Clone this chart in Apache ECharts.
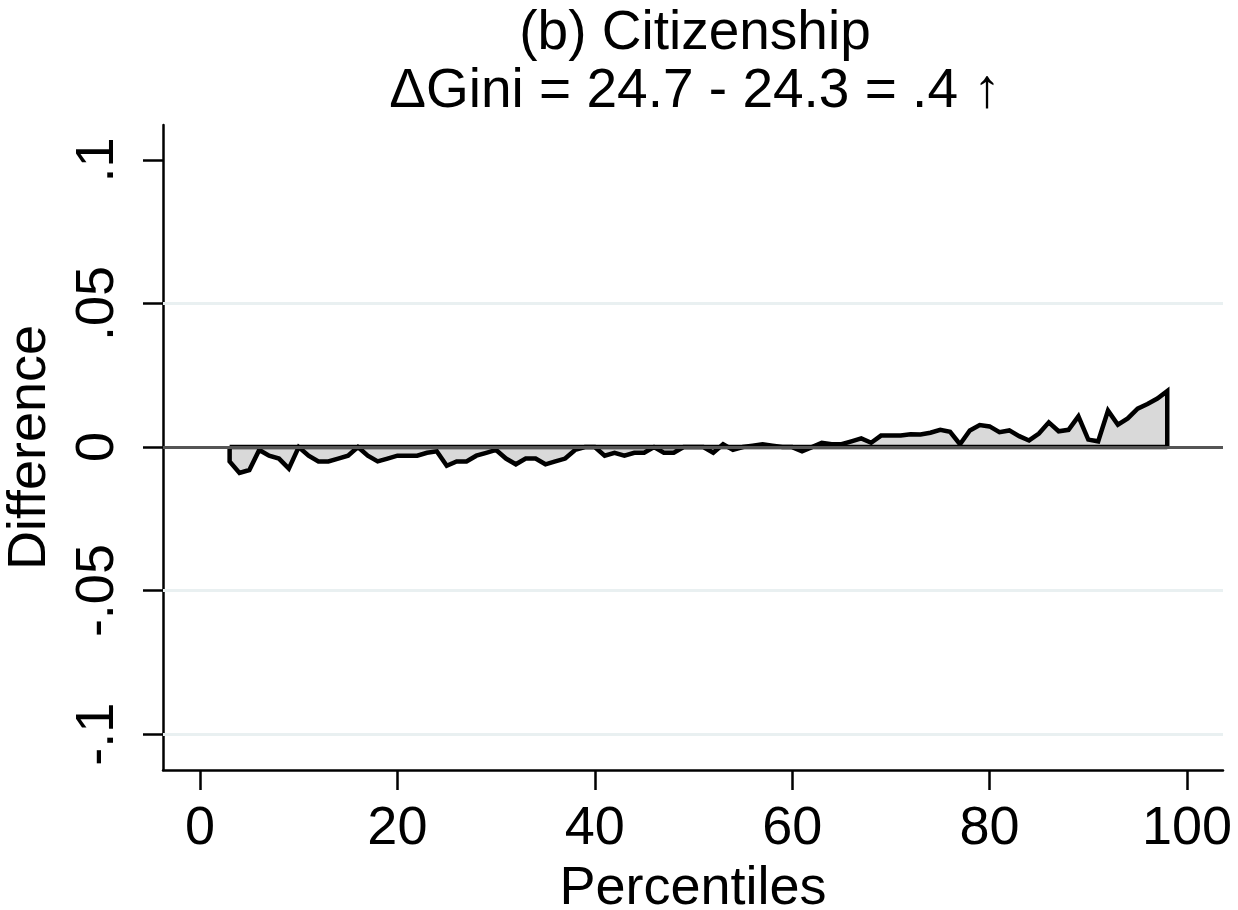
<!DOCTYPE html>
<html>
<head>
<meta charset="utf-8">
<script src="https://cdn.jsdelivr.net/npm/echarts@6/dist/echarts.min.js"></script>
<style>html,body{margin:0;padding:0;background:#fff;}#c{width:1238px;height:910px;}</style>
</head>
<body>
<div id="c"></div>
<script>
const percentiles = [3,4,5,6,7,8,9,10,11,12,13,14,15,16,17,18,19,20,21,22,23,24,25,26,27,28,29,30,31,32,33,34,35,36,37,38,39,40,41,42,43,44,45,46,47,48,49,50,51,52,53,54,55,56,57,58,59,60,61,62,63,64,65,66,67,68,69,70,71,72,73,74,75,76,77,78,79,80,81,82,83,84,85,86,87,88,89,90,91,92,93,94,95,96,97,98];
const differences = [
  -0.005,-0.009,-0.008,-0.001,-0.003,-0.004,-0.0075,0,-0.003,-0.005,
  -0.005,-0.004,-0.003,0,-0.003,-0.005,-0.004,-0.003,-0.003,-0.003,
  -0.002,-0.0015,-0.0065,-0.005,-0.005,-0.003,-0.002,-0.001,-0.004,-0.006,
  -0.004,-0.004,-0.006,-0.005,-0.004,-0.001,0,0,-0.003,-0.002,
  -0.003,-0.002,-0.002,0,-0.002,-0.002,0,0,0,-0.002,
  0.001,-0.001,0,0.0005,0.001,0.0005,0,0,-0.0015,0,
  0.0015,0.001,0.001,0.002,0.003,0.0015,0.004,0.004,0.004,0.0045,
  0.0044,0.005,0.006,0.0053,0.001,0.0058,0.0077,0.0072,0.0052,0.0058,
  0.0038,0.0023,0.0047,0.0086,0.0055,0.006,0.0107,0.0026,0.002,0.0127,
  0.0078,0.010,0.0134,0.015,0.0169,0.0195
];
const xTicks = [0,20,40,60,80,100];
const yTicks = [-0.1,-0.05,0,0.05,0.1];
const yTickLabels = ['-.1','-.05','0','.05','.1'];
const gridValues = [-0.1,-0.05,0.05];
const titleLines = ['(b) Citizenship','\u0394Gini = 24.7 - 24.3 = .4 \u2191'];

const FONT = '"Liberation Sans", Arial, Helvetica, sans-serif';
const areaData = [[percentiles[0],0]].concat(percentiles.map((p,i)=>[p,differences[i]])).concat([[percentiles[percentiles.length-1],0]]);
const baseData = [[percentiles[0],0],[percentiles[percentiles.length-1],0]];

const chart = echarts.init(document.getElementById('c'), null, {renderer:'canvas'});
chart.setOption({
  backgroundColor:'#ffffff',
  animation:false,
  title:{
    text: titleLines.join('\n'),
    left:690, textAlign:'center', top:0,
    textStyle:{fontFamily:FONT,fontSize:55,fontWeight:'normal',color:'#000',lineHeight:58,align:'center'}
  },
  grid:{left:163,right:15,top:125,bottom:140,containLabel:false,outerBoundsMode:'none'},
  xAxis:{
    type:'value', min:-3.75, max:103.65,
    name:'Percentiles', nameLocation:'middle', nameGap:92,
    nameTextStyle:{fontFamily:FONT,fontSize:54,color:'#000'},
    axisLine:{show:true,onZero:false,lineStyle:{color:'#000',width:2.5}},
    axisTick:{show:true,length:20,customValues:xTicks,lineStyle:{color:'#000',width:2.5}},
    axisLabel:{customValues:xTicks,margin:32,fontFamily:FONT,fontSize:54,color:'#000'},
    splitLine:{show:false}
  },
  yAxis:{
    type:'value', min:-0.1125, max:0.1122,
    name:'Difference', nameLocation:'middle', nameGap:106, nameRotate:90,
    nameTextStyle:{fontFamily:FONT,fontSize:54,color:'#000'},
    axisLine:{show:true,onZero:false,lineStyle:{color:'#000',width:2.5}},
    axisTick:{show:true,length:20,customValues:yTicks,lineStyle:{color:'#000',width:2.5}},
    axisLabel:{customValues:yTicks,rotate:90,margin:38,fontFamily:FONT,fontSize:54,color:'#000',
      formatter:function(v){const i=yTicks.findIndex(t=>Math.abs(t-v)<1e-9);return i>=0?yTickLabels[i]:'';}},
    splitLine:{show:false}
  },
  series:[
    {
      type:'line', data:[], z:1, silent:true, symbol:'none',
      markLine:{
        silent:true, symbol:['none','none'], label:{show:false},
        data: gridValues.map(v=>({yAxis:v,lineStyle:{color:'#e9f0f1',width:3,type:'solid'}}))
          .concat([{yAxis:0,lineStyle:{color:'#555555',width:3,type:'solid'}}])
      }
    },
    {
      type:'line', data:areaData, z:2, symbol:'none', silent:true,
      lineStyle:{color:'#000',width:4.5,join:'miter'},
      areaStyle:{color:'#d9d9d9',opacity:1,origin:0}
    },
    {
      type:'line', data:baseData, z:3, symbol:'none', silent:true,
      lineStyle:{color:'#000',width:4.5}
    }
  ]
});
</script>
</body>
</html>
